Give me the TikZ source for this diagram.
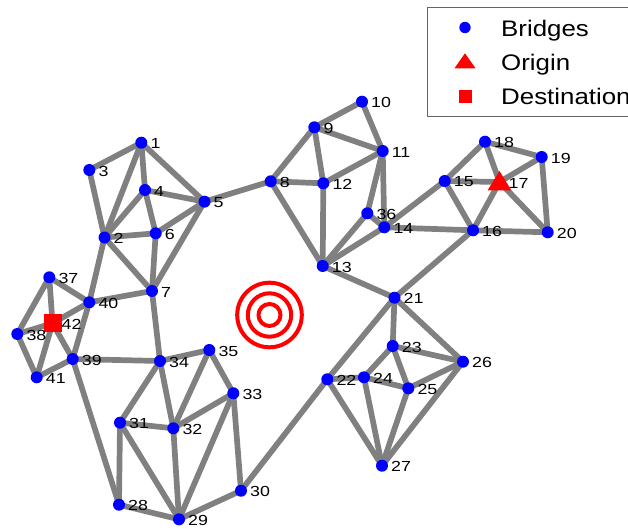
\documentclass[tikz,border=0pt]{standalone}
\usepackage{fontspec}
\setmainfont{Liberation Sans}[FakeStretch=1.15]
\newfontfamily\lblfont{Liberation Sans}[FakeStretch=1.22]
\pgfdeclarelayer{bg}
\pgfsetlayers{bg,main}
\definecolor{edgegray}{RGB}{128,128,128}
\definecolor{legframe}{RGB}{100,100,100}
\tikzset{
  bridge/.style={circle,fill=blue,draw=none,inner sep=0pt,minimum size=12pt},
  destbox/.style={rectangle,fill=red,draw=none,inner sep=0pt,minimum size=18pt},
  origpt/.style={inner sep=0pt,minimum size=0pt},
  lbl/.style={anchor=west,inner sep=0pt,font=\lblfont\fontsize{14.6pt}{16pt}\selectfont},
  edge/.style={draw=edgegray,line width=5.7pt},
  ring/.style={draw=red,line width=4pt},
  legtext/.style={anchor=base west,inner sep=0pt,font=\fontsize{22.5pt}{26pt}\selectfont},
}
\begin{document}
\begin{tikzpicture}[x=1pt,y=-1pt]
\useasboundingbox (0,0) rectangle (628,529);
\clip (0,0) rectangle (628,529);
% nodes
\foreach \i/\x/\y in {1/141.3/142.7,2/104.5/237.5,3/89.3/170,4/145/190,5/204.5/201.7,
  6/155.7/233.3,7/152/291,8/270.7/181.3,9/314.3/127.3,10/362/101.7,11/382.7/151,
  12/323.3/183.3,13/322.7/266,14/384.3/227.3,15/444.7/181,16/473/230.3,
  18/485/141.7,19/541.7/157,20/547.7/232.3,21/394.5/297.7,22/327.3/379.3,
  23/392.7/346,24/364/377.3,25/408.3/388.3,26/463/361.7,27/382/465.7,
  28/119/504.7,29/179/519.3,30/241/490.7,31/120/422.7,32/173.3/428.3,
  33/233.3/393.3,34/160/361,35/209.3/350,36/367.3/213.3,37/49.3/277.3,
  38/17.3/334,39/72.7/359,40/89.3/302.3,41/36.7/377.3}
  \node[bridge] (n\i) at (\x,\y) {};
\node[origpt] (n17) at (499.5,182) {};
\fill[red] (n17.center) ++(0,-11) -- ++(12,19.5) -- ++(-24,0) -- cycle;
\node[destbox] (n42) at (52.5,323.3) {};
% edges
\begin{pgfonlayer}{bg}
\foreach \a/\b in {1/3,1/2,1/4,1/5,3/2,4/2,4/6,4/5,2/6,6/5,6/7,2/7,5/7,2/40,5/8,
  8/9,8/12,8/13,9/10,9/11,9/12,10/11,12/11,12/13,11/36,11/14,36/13,36/14,14/13,
  13/21,14/16,14/15,15/18,15/17,15/16,18/17,18/19,19/17,19/20,17/16,17/20,16/20,
  16/21,21/22,21/23,21/26,23/24,23/25,23/26,22/24,24/25,25/26,22/27,24/27,25/27,
  26/27,22/30,30/29,30/33,33/35,33/32,33/29,35/34,35/32,34/32,34/31,34/39,34/7,
  31/32,31/28,31/29,32/29,28/29,28/39,39/40,39/41,39/42,40/37,40/42,40/7,37/42,
  37/38,38/42,38/41,41/42}
  \draw[edge] (n\a.center) -- (n\b.center);
\end{pgfonlayer}
% labels
\foreach \i in {1,...,42}
  \node[lbl] (l\i) at ([xshift=9pt,yshift=-1pt]n\i.center) {\i};
% target
\node[origpt] (tgt) at (269.5,315) {};
\draw[ring] (tgt.center) circle[radius=11];
\draw[ring] (tgt.center) circle[radius=21.7];
\draw[ring] (tgt.center) circle[radius=32.3];
% legend
\node[draw=legframe,line width=1pt,rectangle,inner sep=0pt,minimum width=214pt,minimum height=109pt,anchor=north west] (leg) at (426.5,7.5) {};
\node[circle,fill=blue,inner sep=0pt,minimum size=11.4pt] (legb) at (465,27.5) {};
\node[origpt] (lego) at (465,61) {};
\fill[red] (lego.center) ++(0,-7.7) -- ++(10.5,15) -- ++(-21,0) -- cycle;
\node[rectangle,fill=red,inner sep=0pt,minimum size=13pt] (legd) at (465,97) {};
\node[legtext] (tb) at (501,36.5) {Bridges};
\node[legtext] (to) at (501,70.5) {Origin};
\node[legtext] (td) at (501,104.5) {Destination};
\end{tikzpicture}
\end{document}
